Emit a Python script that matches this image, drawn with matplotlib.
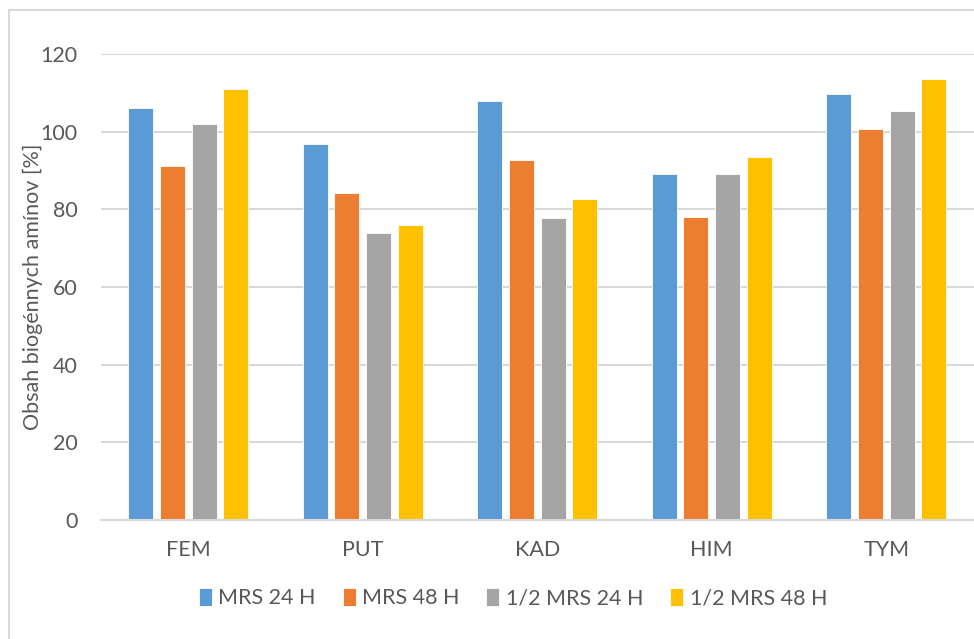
import numpy as np
import matplotlib.pyplot as plt
from matplotlib.patches import Rectangle

plt.rcParams['font.family'] = ['Lato', 'DejaVu Sans']

# obsah biogennych aminov [%] pre jednotlive amíny
amines = ['FEM', 'PUT', 'KAD', 'HIM', 'TYM']
series_names = ['MRS 24 H', 'MRS 48 H', '1/2 MRS 24 H', '1/2 MRS 48 H']
mrs_24 = [106.2, 96.7, 107.8, 89.1, 109.7]
mrs_48 = [91.2, 84.1, 92.6, 77.9, 100.8]
half_mrs_24 = [102.0, 74.0, 77.7, 89.0, 105.2]
half_mrs_48 = [110.9, 76.0, 82.7, 93.4, 113.6]
yticks = [0, 20, 40, 60, 80, 100, 120]

colors = ['#5B9BD5', '#ED7D31', '#A5A5A5', '#FFC000']
text_col = '#595959'
grid_col = '#D9D9D9'
fs = 15.5

fig = plt.figure(figsize=(9.74, 6.39), dpi=100)
ax = fig.add_axes([101 / 974, 1 - 520 / 639, 872.5 / 974, 466 / 639])

# ramik grafu (vpravo a dole je orezany)
fig.patches.append(Rectangle((9 / 974, -0.1), 1.2, 1 - 10 / 639 + 0.1,
                             transform=fig.transFigure, fill=False,
                             edgecolor=grid_col, linewidth=1.5))

x = np.arange(len(amines))
pitch = 0.182
width = 0.143
all_series = [mrs_24, mrs_48, half_mrs_24, half_mrs_48]
for j, vals in enumerate(all_series):
    ax.bar(x + (j - 1.5) * pitch, vals, width, color=colors[j],
           edgecolor='white', linewidth=0.6, label=series_names[j], zorder=3)

ax.set_xlim(-0.5, len(amines) - 0.5)
ax.set_ylim(0, 120)
ax.set_yticks(yticks)
ax.set_xticks(x)
ax.set_xticklabels(amines)
ax.grid(axis='y', color=grid_col, linewidth=1.5, zorder=0)
ax.tick_params(axis='both', length=0, labelsize=fs, colors=text_col)
ax.tick_params(axis='y', pad=17)
ax.tick_params(axis='x', pad=14.5)
for side in ['top', 'right', 'left']:
    ax.spines[side].set_visible(False)
ax.spines['bottom'].set_color(grid_col)
ax.spines['bottom'].set_linewidth(1.5)
ax.spines['bottom'].set_zorder(4)

fig.text(33 / 974, 1 - 287 / 639, 'Obsah biogénnych amínov [%]', rotation=90,
         ha='center', va='center', fontsize=fs, color=text_col)

leg = fig.legend(loc='center', bbox_to_anchor=(513 / 974, 1 - 598 / 639),
                 ncol=4, frameon=False, fontsize=fs, handlelength=0.6,
                 handleheight=0.9, handletextpad=0.3, columnspacing=1.25)
for t in leg.get_texts():
    t.set_color(text_col)

fig.savefig('out.png', dpi=100)
